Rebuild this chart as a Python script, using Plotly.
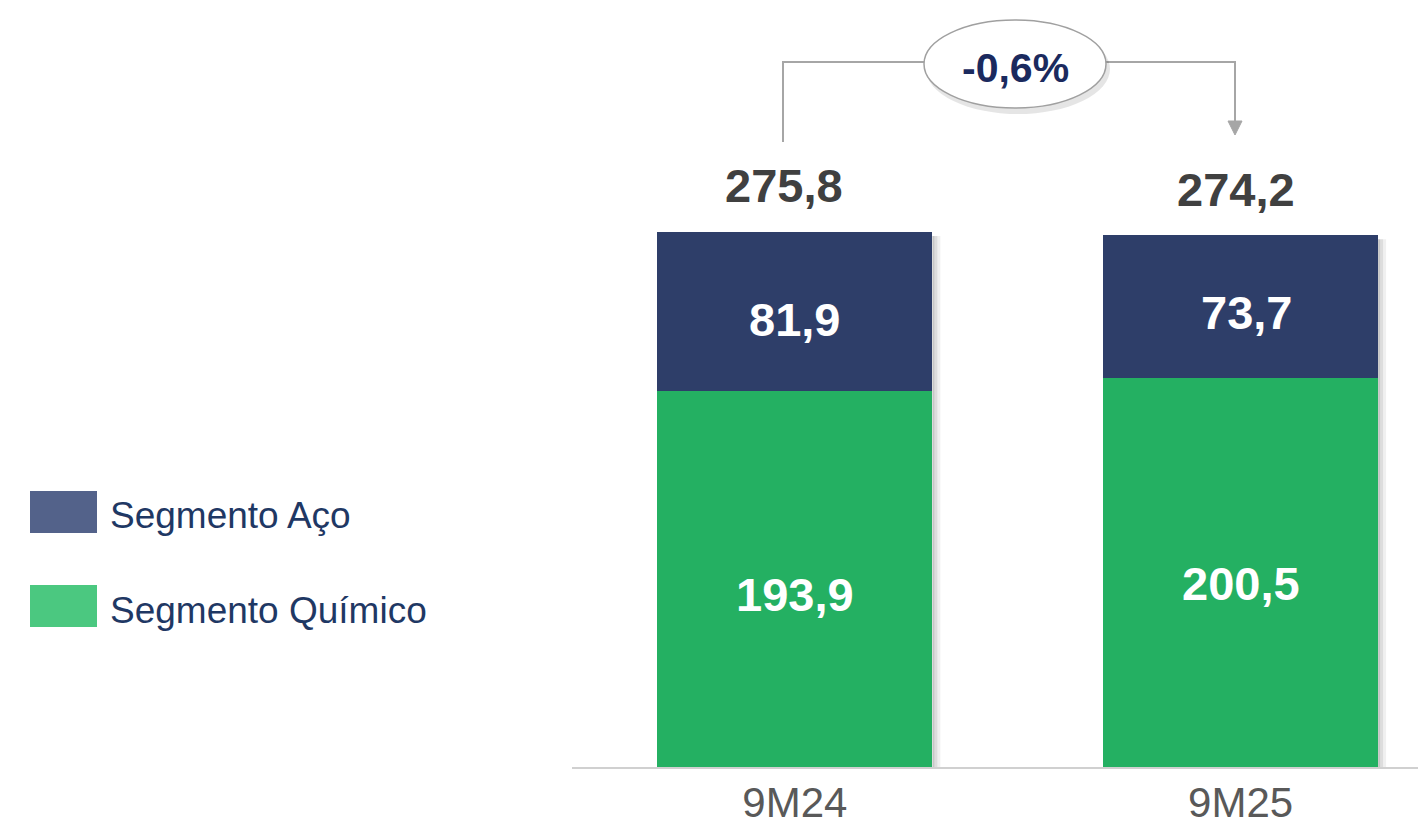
import plotly.graph_objects as go

# ---------------- data ----------------
categories = ["9M24", "9M25"]
segmento_aco = [81.9, 73.7]
segmento_quimico = [193.9, 200.5]
series_names = ["Segmento Aço", "Segmento Químico"]

totals = [round(a + q, 1) for a, q in zip(segmento_aco, segmento_quimico)]
change_pct = (totals[1] / totals[0] - 1) * 100


def fmt(v, nd=1):
    return f"{v:.{nd}f}".replace(".", ",")


# ---------------- layout geometry (page pixels; page body has 8px margin) ----------------
OFF = 8
W, H = 1426 - OFF, 834 - OFF
PAGE_L, PAGE_T, PAGE_BASE = 572, 30, 768
L = PAGE_L - OFF
T = PAGE_T - OFF
B = H - (PAGE_BASE - OFF)
R = 0
PW, PH = W - L - R, H - T - B
PX_PER_UNIT = 1.943
Y_MAX = PH / PX_PER_UNIT
X_RANGE = [-0.5, 1.416]
PX_PER_CAT = PW / (X_RANGE[1] - X_RANGE[0])


def px(x):  # page px -> paper x
    return (x - PAGE_L) / PW


def py(y):  # page px -> paper y
    return (PAGE_BASE - y) / PH


FONT = "Arial, Liberation Sans, sans-serif"
C_ACO = "#2E3E69"
C_QUI = "#24B062"
C_ACO_LEG = "#53628A"
C_QUI_LEG = "#4BC880"
BAR_W = 0.617

fig = go.Figure()
fig.add_trace(go.Bar(x=categories, y=segmento_quimico, name=series_names[1],
                     marker=dict(color=C_QUI, line=dict(width=0)), width=BAR_W,
                     showlegend=False, hoverinfo="skip"))
fig.add_trace(go.Bar(x=categories, y=segmento_aco, name=series_names[0],
                     marker=dict(color=C_ACO, line=dict(width=0)), width=BAR_W,
                     showlegend=False, hoverinfo="skip"))

annotations = []
shapes = []

inner_shift_q = [-15, -10]
inner_shift_a = [-8, -6]
total_shift = [47, 46]
for i, c in enumerate(categories):
    q, a = segmento_quimico[i], segmento_aco[i]
    annotations.append(dict(x=c, y=q / 2, text=fmt(q), showarrow=False,
                            xanchor="center", yanchor="middle", yshift=inner_shift_q[i],
                            font=dict(family=FONT, size=47, color="white", weight="bold")))
    annotations.append(dict(x=c, y=q + a / 2, text=fmt(a), showarrow=False,
                            xanchor="center", yanchor="middle", yshift=inner_shift_a[i],
                            xshift=(0 if i == 0 else 6),
                            font=dict(family=FONT, size=47, color="white", weight="bold")))
    annotations.append(dict(x=c, y=totals[i], text=fmt(totals[i]), showarrow=False,
                            xanchor="center", yanchor="middle",
                            yshift=total_shift[i], xshift=(-11 if i == 0 else -5),
                            font=dict(family=FONT, size=47, color="#404040", weight="bold")))
    # soft drop shadow on the right side of each bar
    for k, (wpx, alpha) in enumerate([(8, 0.06), (5, 0.08), (2, 0.10)]):
        shapes.append(dict(type="rect", xref="x", yref="y", layer="below",
                           x0=i + BAR_W / 2, x1=i + BAR_W / 2 + wpx / PX_PER_CAT,
                           y0=0, y1=totals[i] - 4 / PX_PER_UNIT,
                           fillcolor=f"rgba(0,0,0,{alpha})", line=dict(width=0)))

# connector
line_col = "#A6A6A6"
shapes.append(dict(type="path", xref="paper", yref="paper",
                   path=f"M {px(783)},{py(142)} L {px(783)},{py(62)} L {px(1235)},{py(62)} L {px(1235)},{py(121)}",
                   line=dict(color=line_col, width=2)))
shapes.append(dict(type="path", xref="paper", yref="paper",
                   path=f"M {px(1228)},{py(121)} L {px(1242)},{py(121)} L {px(1235)},{py(135)} Z",
                   fillcolor=line_col, line=dict(color=line_col, width=1)))
# ellipse shadow + ellipse
shapes.append(dict(type="circle", xref="paper", yref="paper",
                   x0=px(926), x1=px(1110), y0=py(24), y1=py(114),
                   fillcolor="rgba(0,0,0,0.10)", line=dict(width=0)))
shapes.append(dict(type="circle", xref="paper", yref="paper",
                   x0=px(924), x1=px(1106), y0=py(20), y1=py(108),
                   fillcolor="white", line=dict(color="#A0A0A0", width=1.5)))
annotations.append(dict(xref="paper", yref="paper", x=px(1015), y=py(68),
                        xanchor="center", yanchor="middle",
                        text=fmt(change_pct) + "%", showarrow=False,
                        font=dict(family=FONT, size=41, color="#1B2A5E", weight="bold")))

# axis baseline
shapes.append(dict(type="line", xref="paper", yref="paper", x0=0, x1=1, y0=0, y1=0,
                   line=dict(color="#D0D0D0", width=2)))

# custom legend
leg = [(series_names[0], C_ACO_LEG, 491, 533), (series_names[1], C_QUI_LEG, 585, 627)]
for name, col, y0, y1 in leg:
    shapes.append(dict(type="rect", xref="paper", yref="paper",
                       x0=px(30), x1=px(97), y0=py(y1), y1=py(y0),
                       fillcolor=col, line=dict(width=0)))
    annotations.append(dict(xref="paper", yref="paper", x=px(108), y=py((y0 + y1) / 2 + 4),
                            xanchor="left", yanchor="middle", text=name, showarrow=False,
                            font=dict(family=FONT, size=37, color="#1F3864")))

fig.update_layout(
    width=W, height=H,
    margin=dict(l=L, r=R, t=T, b=B, autoexpand=False),
    barmode="stack",
    plot_bgcolor="white", paper_bgcolor="white",
    showlegend=False,
    annotations=annotations,
    shapes=shapes,
    xaxis=dict(range=X_RANGE, showgrid=False, zeroline=False, showline=False,
               ticks="", ticklabelstandoff=6,
               tickfont=dict(family=FONT, size=42, color="#595959"),
               automargin=False, fixedrange=True),
    yaxis=dict(range=[0, Y_MAX], showgrid=False, zeroline=False, showline=False,
               showticklabels=False, automargin=False, fixedrange=True),
)

fig.write_html("out.html", config={"displayModeBar": False})
